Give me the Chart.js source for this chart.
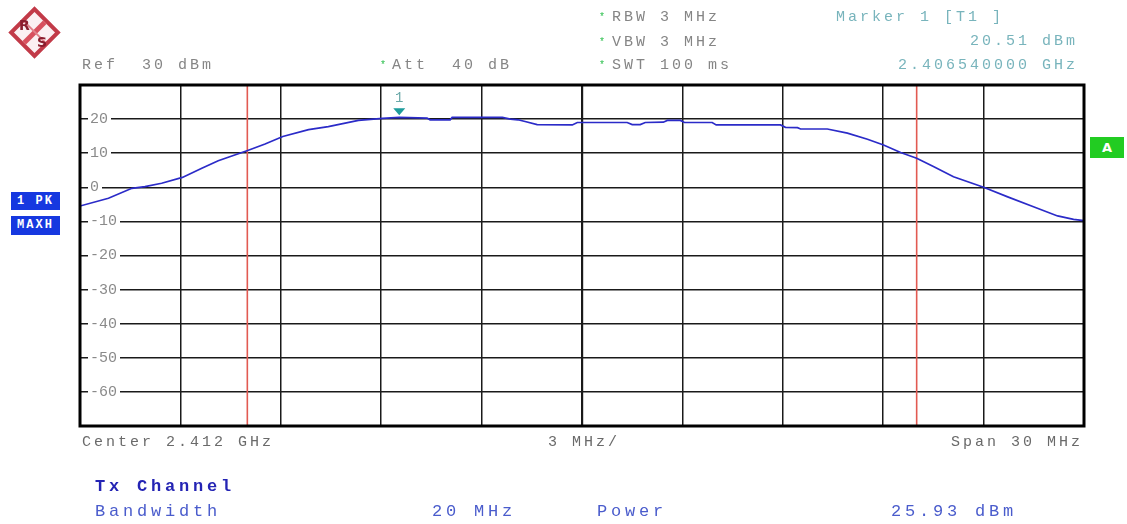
<!DOCTYPE html>
<html>
<head>
<meta charset="utf-8">
<script src="https://cdn.jsdelivr.net/npm/chart.js@4.4.1/dist/chart.umd.min.js"></script>
<style>
body{margin:0;background:#fff;}
#wrap{position:relative;width:1127px;height:524px;overflow:hidden;font-family:"Liberation Mono",monospace;}
#wrap canvas{position:absolute;left:0;top:0;}
.t{position:absolute;font-size:15px;line-height:16px;letter-spacing:3px;white-space:pre;color:#858585;}
.b{font-size:17px;line-height:18px;letter-spacing:3.8px;}
.star{position:absolute;font-size:10px;line-height:10px;color:#30c050;}
.mk{color:#78b4bc;}
.blue{color:#4a5ccc;}
.tx{color:#2424b4;font-weight:bold;}
.box{position:absolute;background:#1638e0;color:#fff;font-weight:bold;font-size:12px;text-align:center;letter-spacing:2px;}
#abox{position:absolute;left:1090px;top:137px;width:34px;height:21px;background:#22cc22;color:#fff;font-weight:bold;font-size:13px;line-height:21px;text-align:center;font-family:"DejaVu Sans",sans-serif;}
#logo{position:absolute;left:16px;top:14px;width:37px;height:37px;box-sizing:border-box;border:4px solid #c23a48;background:#fbf0f2;transform:rotate(45deg);}
#logo .v{position:absolute;left:12px;top:0;width:5px;height:29px;background:#d8505e;}
#logo .h{position:absolute;left:0;top:13px;width:29px;height:2px;background:#e0808a;}
.lg{position:absolute;z-index:2;font-family:"DejaVu Sans",sans-serif;font-weight:bold;font-size:14px;line-height:14px;color:#8a1e2e;}
</style>
</head>
<body>
<div id="wrap">
  <canvas id="chart" width="1127" height="524"></canvas>

  <div id="logo"><div class="v"></div><div class="h"></div></div>
  <span class="lg" style="left:19px;top:18px;">R</span>
  <span class="lg" style="left:37px;top:35px;">S</span>

  <div class="t" style="left:82px;top:58px;">Ref  30 dBm</div>
  <div class="star" style="left:380px;top:61px;">*</div>
  <div class="t" style="left:392px;top:58px;">Att  40 dB</div>

  <div class="star" style="left:599px;top:13px;">*</div>
  <div class="t" style="left:612px;top:10px;">RBW 3 MHz</div>
  <div class="star" style="left:599px;top:38px;">*</div>
  <div class="t" style="left:612px;top:35px;">VBW 3 MHz</div>
  <div class="star" style="left:599px;top:61px;">*</div>
  <div class="t" style="left:612px;top:58px;">SWT 100 ms</div>

  <div class="t mk" style="left:836px;top:10px;">Marker 1 [T1 ]</div>
  <div class="t mk" style="right:49px;top:34px;">20.51 dBm</div>
  <div class="t mk" style="right:49px;top:58px;">2.406540000 GHz</div>

  <div class="box" style="left:11px;top:192px;width:49px;height:18px;line-height:18px;">1 PK</div>
  <div class="box" style="left:11px;top:216px;width:49px;height:19px;line-height:19px;">MAXH</div>
  <div id="abox">A</div>

  <div class="t" style="left:82px;top:435px;color:#6a6a6a;">Center 2.412 GHz</div>
  <div class="t" style="left:548px;top:435px;color:#6a6a6a;">3 MHz/</div>
  <div class="t" style="right:44px;top:435px;color:#6a6a6a;">Span 30 MHz</div>

  <div class="t b tx" style="left:95px;top:478px;">Tx Channel</div>
  <div class="t b blue" style="left:95px;top:503px;">Bandwidth</div>
  <div class="t b blue" style="left:432px;top:503px;">20 MHz</div>
  <div class="t b blue" style="left:597px;top:503px;">Power</div>
  <div class="t b blue" style="left:891px;top:503px;">25.93 dBm</div>
</div>

<script>
// offset from centre frequency 2.412 GHz, in MHz
var freqOffsetMHz = [-15.0, -14.15, -13.45, -13.06, -12.56, -11.94, -11.36, -10.87, -9.99, -9.47,
  -8.94, -8.17, -7.58, -6.68, -5.96, -5.46, -4.63, -4.54, -3.94, -3.88,
  -2.38, -2.14, -1.91, -1.70, -1.34, -0.29, -0.14, 1.35, 1.50, 1.74,
  1.89, 2.43, 2.55, 2.94, 3.06, 3.89, 4.01, 5.93, 6.08, 6.44,
  6.53, 7.33, 7.93, 8.53, 9.01, 9.52, 10.0, 10.50, 11.10, 12.0,
  12.72, 13.49, 14.21, 14.69, 15.0];
var traceLevelDbm = [-5.5, -3.2, -0.3, 0.2, 1.2, 2.9, 5.6, 7.8, 10.8, 12.7,
  14.9, 16.9, 17.8, 19.6, 20.2, 20.51, 20.3, 19.8, 19.8, 20.5,
  20.5, 20.0, 19.8, 19.3, 18.4, 18.3, 19.0, 19.0, 18.4, 18.4,
  19.0, 19.1, 19.6, 19.6, 19.0, 19.0, 18.3, 18.3, 17.6, 17.5,
  17.1, 17.1, 15.9, 14.1, 12.4, 10.2, 8.5, 6.1, 3.1, 0,
  -2.8, -5.7, -8.4, -9.4, -9.8];
var channelEdgesMHz = [-10, 10];
var levelRange = [-70, 30];
var hiddenLevelLabels = [30, -70];
var markerFreqMHz = -5.46;
var markerLevelDbm = 20.51;
var markerLabel = '1';

var trace = freqOffsetMHz.map(function(f, i){ return {x: f, y: traceLevelDbm[i]}; });

var datasets = [{
  data: trace,
  borderColor: '#2b2bc8',
  borderWidth: 1.7,
  pointRadius: 0,
  tension: 0
}];
channelEdgesMHz.forEach(function(f){
  datasets.push({
    data: [{x: f, y: levelRange[0]}, {x: f, y: levelRange[1]}],
    borderColor: '#e25a52',
    borderWidth: 1.6,
    pointRadius: 0
  });
});

var frame = {
  id: 'frame',
  afterDraw: function(chart){
    var a = chart.chartArea, ctx = chart.ctx;
    ctx.save();
    ctx.strokeStyle = '#000';
    ctx.lineWidth = 3;
    ctx.strokeRect(a.left, a.top, a.right - a.left, a.bottom - a.top);
    ctx.restore();
  }
};

var marker = {
  id: 'marker',
  afterDatasetsDraw: function(chart){
    var px = chart.scales.x.getPixelForValue(markerFreqMHz);
    var py = chart.scales.y.getPixelForValue(markerLevelDbm);
    var ctx = chart.ctx;
    ctx.save();
    ctx.fillStyle = '#1d9c9c';
    ctx.beginPath();
    ctx.moveTo(px - 6, py - 9);
    ctx.lineTo(px + 6, py - 9);
    ctx.lineTo(px, py - 2);
    ctx.closePath();
    ctx.fill();
    ctx.fillStyle = '#6aa8a8';
    ctx.font = '14px "Liberation Mono", monospace';
    ctx.textAlign = 'center';
    ctx.textBaseline = 'middle';
    ctx.fillText(markerLabel, px, py - 19);
    ctx.restore();
  }
};

new Chart(document.getElementById('chart'), {
  type: 'line',
  data: {datasets: datasets},
  options: {
    responsive: false,
    animation: false,
    layout: {padding: {left: 80, right: 43, top: 85, bottom: 98}},
    plugins: {legend: {display: false}, tooltip: {enabled: false}},
    scales: {
      x: {
        type: 'linear',
        min: -15, max: 15,
        ticks: {display: false, stepSize: 3},
        border: {display: false},
        grid: {
          color: '#1a1a1a',
          lineWidth: function(c){ return c.tick && c.tick.value === 0 ? 2.2 : 1.5; },
          drawTicks: false
        }
      },
      y: {
        min: levelRange[0], max: levelRange[1],
        border: {display: false},
        grid: {color: '#1a1a1a', lineWidth: 1.5, drawTicks: false},
        afterFit: function(scale){ scale.width = 0; },
        ticks: {
          stepSize: 10,
          mirror: true,
          padding: 10,
          color: '#8a8a8a',
          font: {family: '"Liberation Mono", monospace', size: 15},
          showLabelBackdrop: true,
          backdropColor: '#fff',
          backdropPadding: {left: 2, right: 3, top: 0, bottom: 0},
          callback: function(v){ return hiddenLevelLabels.indexOf(v) >= 0 ? '' : v; }
        }
      }
    }
  },
  plugins: [frame, marker]
});
</script>
</body>
</html>
